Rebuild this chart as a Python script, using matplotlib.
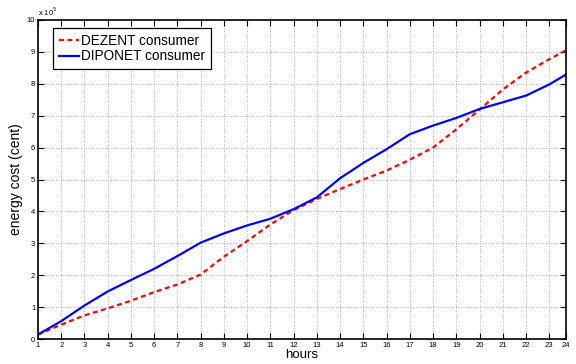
import matplotlib
matplotlib.use('Agg')
import matplotlib.pyplot as plt
import numpy as np

plt.rcParams['font.family'] = ['Liberation Sans', 'DejaVu Sans']

# the last sample sits at the right edge of the axis, labelled 24
hour_pos = [1, 2, 3, 4, 5, 6, 7, 8, 9, 10, 11, 12, 13, 14, 15, 16, 17, 18, 19, 20, 21, 22, 23, 23.72]
hour_labels = [str(h) for h in range(1, 25)]
# energy cost, in units of 1e5 cent
dezent = [0.14, 0.45, 0.74, 0.96, 1.2, 1.47, 1.71, 2.02, 2.58, 3.07, 3.59, 4.04, 4.39, 4.7, 5.0, 5.28, 5.62,
          6.0, 6.57, 7.19, 7.82, 8.35, 8.77, 9.05]
diponet = [0.14, 0.56, 1.05, 1.49, 1.85, 2.2, 2.6, 3.02, 3.31, 3.56, 3.77, 4.07, 4.44, 5.04, 5.52, 5.95, 6.42,
           6.69, 6.93, 7.21, 7.42, 7.63, 7.98, 8.29]

fig = plt.figure(figsize=(5.76, 3.64), dpi=100)
ax = fig.add_axes([38/576, 25/364, 528/576, 319/364])

ax.plot(hour_pos, dezent, color='red', linestyle=(0, (2.2, 1.6)), linewidth=1.6, label='DEZENT consumer')
ax.plot(hour_pos, diponet, color='blue', linestyle='-', linewidth=1.6, label='DIPONET consumer')

ax.set_xlim(hour_pos[0], hour_pos[-1])
ax.set_ylim(0, 10)
ax.set_xticks(hour_pos)
ax.set_xticklabels(hour_labels)
ax.set_yticks(range(0, 11))
ax.tick_params(direction='in', length=4, width=0.8, labelsize=5.5, top=True, right=True, pad=2)
ax.grid(True, linestyle=(0, (1, 2)), color='#999999', linewidth=0.6)
for s in ax.spines.values():
    s.set_linewidth(1.2)

ax.text(0.0, 1.005, r'x 10$^5$', transform=ax.transAxes, fontsize=5.5, ha='left', va='bottom')
ax.set_xlabel('hours', fontsize=9.5, labelpad=0)
ax.set_ylabel('energy cost (cent)', fontsize=10, labelpad=3)

leg = ax.legend(loc='upper left', bbox_to_anchor=(15/528, 1-8/319), borderaxespad=0, fontsize=9.8,
                frameon=True, fancybox=False, handlelength=1.5, handletextpad=0.15,
                borderpad=0.42, labelspacing=0.12)
leg.get_frame().set_edgecolor('black')
leg.get_frame().set_linewidth(0.9)
leg.get_frame().set_alpha(1)

fig.savefig('out.png', dpi=100)
